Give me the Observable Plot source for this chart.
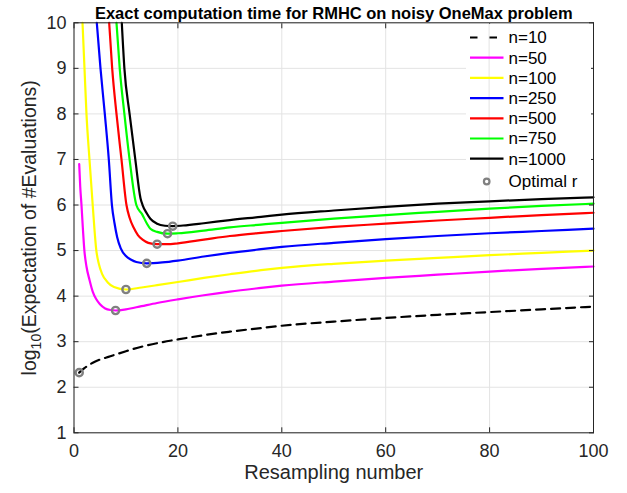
<!DOCTYPE html>
<html><head><meta charset="utf-8">
<script src="https://cdn.jsdelivr.net/npm/d3@7"></script>
<script src="https://cdn.jsdelivr.net/npm/@observablehq/plot@0.6"></script>
<style>
body{margin:0;background:#fff}
#chart svg{font-family:"Liberation Sans",Arial,Helvetica,sans-serif;}
</style>
</head><body><div id="chart"></div><script>
const titleText = "Exact computation time for RMHC on noisy OneMax problem";
const xLabel = "Resampling number";
const yLabelPre = "log";
const yLabelSub = "10";
const yLabelPost = "(Expectation of #Evaluations)";
const xTicks = [0, 20, 40, 60, 80, 100];
const yTicks = [1, 2, 3, 4, 5, 6, 7, 8, 9, 10];

const seriesNames = ["n=10", "n=50", "n=100", "n=250", "n=500", "n=750", "n=1000"];
const seriesColors = ["#000000", "#ff00ff", "#ffff00", "#0000ff", "#ff0000", "#00ff00", "#000000"];
const optimalLabel = "Optimal r";

// resampling number r and log10(E[#evaluations])
const r_n10 = [1, 2, 4, 7, 10, 13, 17, 20, 26, 30, 36, 40, 50, 60, 70, 80, 90, 100];
const v_n10 = [2.32, 2.42, 2.56, 2.68, 2.79, 2.89, 2.99, 3.05, 3.16, 3.22, 3.30, 3.35, 3.44, 3.52, 3.59, 3.65, 3.71, 3.77];

const r_n50 = [1, 1.2, 1.44, 1.7, 2.0, 2.4, 3.0, 3.6, 4.3, 5.0, 6.0, 7.0, 8, 10, 13, 16, 20, 25, 30, 36, 40, 50, 60, 70, 80, 90, 100];
const v_n50 = [6.9, 6.4, 6.0, 5.5, 5.0, 4.65, 4.35, 4.1, 3.93, 3.82, 3.73, 3.695, 3.685, 3.71, 3.78, 3.85, 3.93, 4.02, 4.10, 4.18, 4.23, 4.32, 4.40, 4.47, 4.54, 4.60, 4.65];

const r_n100 = [1.64, 2.02, 2.4, 2.98, 3.6, 4.3, 4.8, 5.4, 6.5, 7.7, 10, 13, 16, 20, 25, 30, 36, 40, 50, 60, 70, 80, 90, 100];
const v_n100 = [10, 9, 8, 7, 6, 5.0, 4.7, 4.49, 4.3, 4.2, 4.146, 4.19, 4.24, 4.31, 4.40, 4.48, 4.57, 4.62, 4.71, 4.78, 4.84, 4.90, 4.95, 5.0];

const r_n250 = [4.39, 5.1, 5.93, 6.7, 7.3, 7.8, 8.3, 9.0, 10, 11, 12, 14, 17, 20, 25, 30, 36, 40, 50, 60, 70, 80, 90, 100];
const v_n250 = [10, 9, 8, 7, 6.0, 5.6, 5.3, 5.05, 4.88, 4.8, 4.75, 4.72, 4.74, 4.78, 4.87, 4.95, 5.03, 5.08, 5.17, 5.25, 5.32, 5.38, 5.43, 5.48];

const r_n500 = [6.77, 7.35, 8.18, 9.14, 10.1, 10.7, 11.5, 12.3, 13.2, 14.3, 16, 18, 20, 25, 30, 36, 40, 50, 60, 70, 80, 90, 100];
const v_n500 = [10, 9, 8, 7, 6.0, 5.72, 5.5, 5.34, 5.24, 5.17, 5.14, 5.14, 5.16, 5.24, 5.32, 5.39, 5.43, 5.52, 5.59, 5.66, 5.72, 5.78, 5.83];

const r_n750 = [8.18, 8.8, 9.7, 10.7, 12.0, 13.1, 14, 14.7, 16, 18, 20, 25, 30, 36, 40, 50, 60, 70, 80, 90, 100];
const v_n750 = [10, 9, 8, 7, 6.0, 5.8, 5.6, 5.48, 5.41, 5.37, 5.38, 5.44, 5.51, 5.57, 5.61, 5.70, 5.78, 5.85, 5.92, 5.98, 6.03];

const r_n1000 = [9.2, 9.7, 10.7, 11.8, 12.8, 13.2, 14.0, 14.7, 16, 17.5, 19, 21, 25, 30, 36, 40, 50, 60, 70, 80, 90, 100];
const v_n1000 = [10, 9, 8, 7, 6.15, 6.0, 5.82, 5.70, 5.59, 5.545, 5.535, 5.55, 5.60, 5.67, 5.74, 5.79, 5.88, 5.96, 6.03, 6.08, 6.13, 6.17];

const optR = [1, 8, 10, 14, 16, 18, 19];
const optV = [2.32, 3.685, 4.146, 4.72, 5.14, 5.37, 5.535];

const seriesR = [r_n10, r_n50, r_n100, r_n250, r_n500, r_n750, r_n1000];
const seriesV = [v_n10, v_n50, v_n100, v_n250, v_n500, v_n750, v_n1000];

const rows = seriesNames.flatMap((n, i) => seriesR[i].map((r, j) => ({n, r, v: seriesV[i][j]})));
const solidRows = rows.filter(d => d.n !== "n=10");
const dashedRows = rows.filter(d => d.n === "n=10");
const optRows = optR.map((r, i) => ({r, v: optV[i]}));

const ink = "#262626";
const gridColor = "#e3e3e3";

const plot = Plot.plot({
  width: 627,
  height: 493,
  marginTop: 22.3,
  marginRight: 34,
  marginBottom: 60.7,
  marginLeft: 73.5,
  style: {background: "white", color: ink, fontSize: "18px", fontFamily: '"Liberation Sans", Arial, sans-serif'},
  x: {domain: [0, 100], ticks: xTicks},
  y: {domain: [1, 10], ticks: yTicks},
  color: {domain: seriesNames, range: seriesColors},
  marks: [
    Plot.gridX({ticks: xTicks, stroke: gridColor, strokeOpacity: 1}),
    Plot.gridY({ticks: yTicks, stroke: gridColor, strokeOpacity: 1}),
    Plot.line(dashedRows, {x: "r", y: "v", stroke: "#000", strokeWidth: 2.2, strokeDasharray: "9,6", curve: "monotone-x"}),
    Plot.line(solidRows, {x: "r", y: "v", z: "n", stroke: "n", strokeWidth: 2.2, curve: "monotone-x"}),
    Plot.dot(optRows, {x: "r", y: "v", r: 3.6, stroke: "#808080", strokeWidth: 2.4, fill: "none"}),
    Plot.frame({stroke: ink, strokeWidth: 1}),
    Plot.axisX({ticks: xTicks, tickSize: 0, tickPadding: 11, label: null, fontSize: 18}),
    Plot.axisY({ticks: yTicks, tickSize: 0, tickPadding: 7.5, label: null, fontSize: 18}),
    Plot.axisX({anchor: "bottom", ticks: xTicks, tickSize: -5, tickFormat: () => "", label: null}),
    Plot.axisX({anchor: "top", ticks: xTicks, tickSize: -5, tickFormat: () => "", label: null}),
    Plot.axisY({anchor: "left", ticks: yTicks, tickSize: -5, tickFormat: () => "", label: null}),
    Plot.axisY({anchor: "right", ticks: yTicks, tickSize: -5, tickFormat: () => "", label: null}),
    Plot.text([titleText], {frameAnchor: "top", lineAnchor: "bottom", dy: -3.5, fontSize: 16.5, fontWeight: "bold", fill: "#000"}),
    Plot.text([xLabel], {frameAnchor: "bottom", lineAnchor: "bottom", dy: 46, fontSize: 20, fill: ink}),
    Plot.text([yLabelPre + yLabelSub + yLabelPost], {frameAnchor: "left", textAnchor: "middle", rotate: -90, lineAnchor: "middle", dx: -44, fontSize: 19.5, fill: ink})
  ]
});

document.getElementById("chart").appendChild(plot);

const svg = d3.select(plot);
// y label with subscript
svg.selectAll("text").filter(function () { return this.textContent === yLabelPre + yLabelSub + yLabelPost; })
  .each(function () {
    const t = d3.select(this);
    t.text(null);
    t.append("tspan").text(yLabelPre);
    t.append("tspan").attr("font-size", "14px").attr("dy", "5").text(yLabelSub);
    t.append("tspan").attr("dy", "-5").text(yLabelPost);
  });

// legend
const sx = plot.scale("x");
const lg = svg.append("g")
  .attr("font-family", '"Liberation Sans", Arial, sans-serif')
  .attr("font-size", 17)
  .attr("text-anchor", "start");
lg.append("rect").attr("x", 466).attr("y", 24).attr("width", 125).attr("height", 168).attr("fill", "white");
lg.append("line").attr("x1", sx.apply(80)).attr("x2", sx.apply(80)).attr("y1", 24).attr("y2", 192).attr("stroke", gridColor);
const rowY = i => 37.5 + i * 20.2;
seriesNames.forEach((n, i) => {
  const y = rowY(i);
  lg.append("line").attr("x1", 470).attr("x2", 503.5).attr("y1", y).attr("y2", y)
    .attr("stroke", seriesColors[i]).attr("stroke-width", 2.2)
    .attr("stroke-dasharray", n === "n=10" ? "7.5,12" : null);
  lg.append("text").attr("x", 508.5).attr("y", y).attr("dy", "0.35em").attr("fill", "#000").text(n);
});
lg.append("circle").attr("cx", 486.7).attr("cy", 181.5).attr("r", 2.8).attr("fill", "none").attr("stroke", "#808080").attr("stroke-width", 2.2);
lg.append("text").attr("x", 508.5).attr("y", 181.5).attr("dy", "0.35em").attr("fill", "#000").text(optimalLabel);
</script></body></html>
